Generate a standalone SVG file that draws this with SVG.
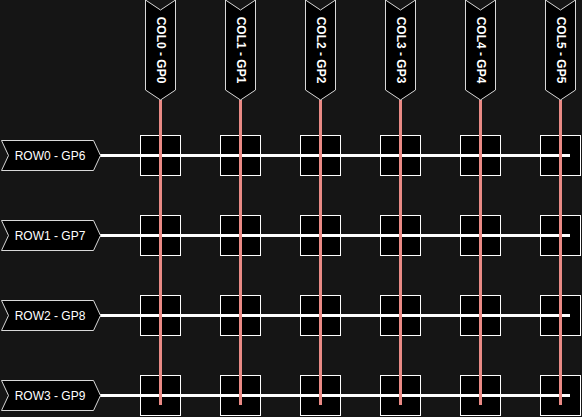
<svg xmlns="http://www.w3.org/2000/svg" width="582" height="417" viewBox="0 0 582 417">
<defs>
<style>
.bg{fill:#151515}
.cell{fill:#000;stroke:#fff;stroke-width:1}
.row{stroke:#fff;stroke-width:3;fill:none}
.col{stroke:#ea8a85;stroke-width:3;fill:none}
.lbl{fill:#000;stroke:#d8d8d8;stroke-width:1}
.rt{font-family:"Liberation Sans",Arial,sans-serif;font-size:12px;fill:#fff;text-anchor:middle;dominant-baseline:central}
.ct{font-family:"Liberation Sans",Arial,sans-serif;font-size:12px;font-weight:bold;fill:#fff;text-anchor:middle;dominant-baseline:central}
</style>
<rect id="cellshape" class="cell" x="-19.5" y="-19.5" width="40" height="40"/>
<polygon id="colshape" class="lbl" points="-14.5,0 0.5,10 15.5,0 15.5,90 0.5,100 -14.5,90"/>
<polygon id="rowshape" class="lbl" points="1.5,140.5 93.5,140.5 100.5,155.5 93.5,170.5 1.5,170.5 8.5,155.5"/>
</defs>
<rect class="bg" x="0" y="0" width="582" height="417"/>
<g id="cells">
<use href="#cellshape" x="160" y="155"/><use href="#cellshape" x="240" y="155"/><use href="#cellshape" x="320" y="155"/><use href="#cellshape" x="400" y="155"/><use href="#cellshape" x="480" y="155"/><use href="#cellshape" x="560" y="155"/>
<use href="#cellshape" x="160" y="235"/><use href="#cellshape" x="240" y="235"/><use href="#cellshape" x="320" y="235"/><use href="#cellshape" x="400" y="235"/><use href="#cellshape" x="480" y="235"/><use href="#cellshape" x="560" y="235"/>
<use href="#cellshape" x="160" y="315"/><use href="#cellshape" x="240" y="315"/><use href="#cellshape" x="320" y="315"/><use href="#cellshape" x="400" y="315"/><use href="#cellshape" x="480" y="315"/><use href="#cellshape" x="560" y="315"/>
<use href="#cellshape" x="160" y="395"/><use href="#cellshape" x="240" y="395"/><use href="#cellshape" x="320" y="395"/><use href="#cellshape" x="400" y="395"/><use href="#cellshape" x="480" y="395"/><use href="#cellshape" x="560" y="395"/>
</g>
<g id="connectors">
<line class="row" x1="100" y1="155.5" x2="570" y2="155.5"/>
<line class="row" x1="100" y1="235.5" x2="570" y2="235.5"/>
<line class="row" x1="100" y1="315.5" x2="570" y2="315.5"/>
<line class="row" x1="100" y1="395.5" x2="570" y2="395.5"/>
<line class="col" x1="160.5" y1="100" x2="160.5" y2="405"/>
<line class="col" x1="240.5" y1="100" x2="240.5" y2="405"/>
<line class="col" x1="320.5" y1="100" x2="320.5" y2="405"/>
<line class="col" x1="400.5" y1="100" x2="400.5" y2="405"/>
<line class="col" x1="480.5" y1="100" x2="480.5" y2="405"/>
<line class="col" x1="560.5" y1="100" x2="560.5" y2="405"/>
</g>
<g id="col0"><use href="#colshape" x="160"/><text class="ct" transform="translate(160.5,50) rotate(90)">COL0 - GP0</text></g>
<g id="col1"><use href="#colshape" x="240"/><text class="ct" transform="translate(240.5,50) rotate(90)">COL1 - GP1</text></g>
<g id="col2"><use href="#colshape" x="320"/><text class="ct" transform="translate(320.5,50) rotate(90)">COL2 - GP2</text></g>
<g id="col3"><use href="#colshape" x="400"/><text class="ct" transform="translate(400.5,50) rotate(90)">COL3 - GP3</text></g>
<g id="col4"><use href="#colshape" x="480"/><text class="ct" transform="translate(480.5,50) rotate(90)">COL4 - GP4</text></g>
<g id="col5"><use href="#colshape" x="560"/><text class="ct" transform="translate(560.5,50) rotate(90)">COL5 - GP5</text></g>
<g id="row0"><use href="#rowshape" y="0"/><text class="rt" x="50" y="155.5">ROW0 - GP6</text></g>
<g id="row1"><use href="#rowshape" y="80"/><text class="rt" x="50" y="235.5">ROW1 - GP7</text></g>
<g id="row2"><use href="#rowshape" y="160"/><text class="rt" x="50" y="315.5">ROW2 - GP8</text></g>
<g id="row3"><use href="#rowshape" y="240"/><text class="rt" x="50" y="395.5">ROW3 - GP9</text></g>
</svg>
